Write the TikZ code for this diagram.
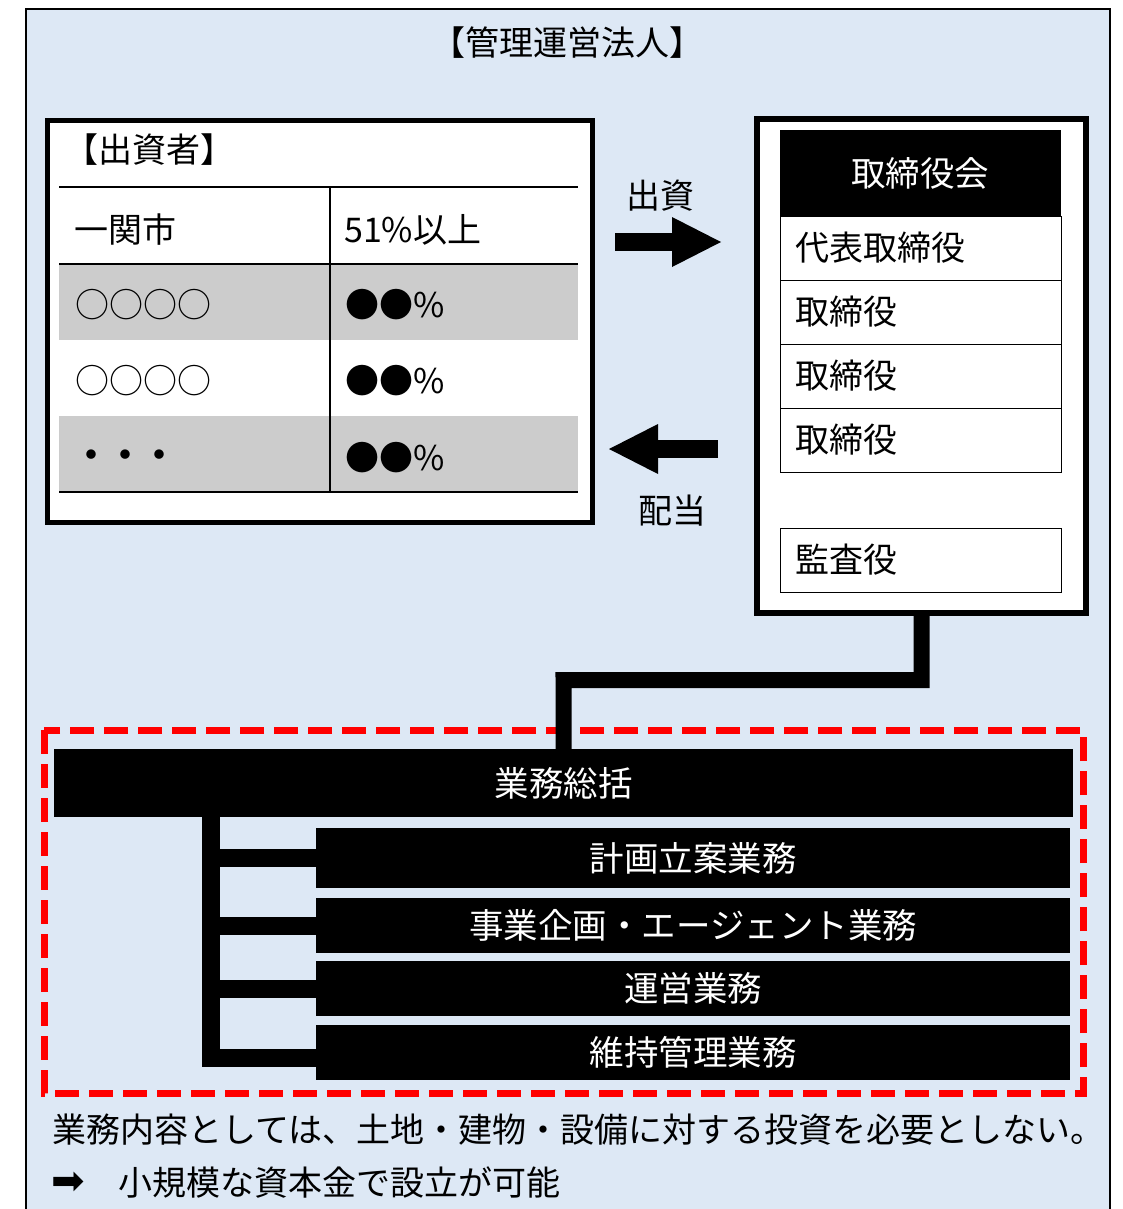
\documentclass[tikz,border=0pt]{standalone}
\usepackage{fontspec}
\setmainfont{Noto Sans CJK JP}
\newfontfamily\symfnt{DejaVu Sans}
\usetikzlibrary{arrows.meta}
\definecolor{bgblue}{RGB}{221,232,245}
\definecolor{rowgray}{RGB}{204,204,204}
\begin{document}
\begin{tikzpicture}[x=1pt,y=-1pt,
  lbl/.style={inner sep=0, font=\fontsize{34}{40}\selectfont},
  blackbar/.style={fill=black, inner sep=0, text=white, anchor=north west, font=\fontsize{34.5}{40}\selectfont},
  rowbox/.style={draw, line width=1.2, fill=white, minimum width=281, minimum height=64, anchor=north west, inner sep=0},
  conn/.style={line width=16},
  tree/.style={line width=18},
  blk/.style={line width=18, -{Triangle[length=49pt,width=50pt,line width=0pt]}},
]
\useasboundingbox (0,0) rectangle (1122,1209);
\path[fill=bgblue, draw=black, line width=2] (26,9) rectangle (1110,1240);

\node[lbl] (title) at (567,43) {【管理運営法人】};

% investors
\node[draw, line width=5, fill=white, minimum width=545, minimum height=401, anchor=north west, inner sep=0] (inv) at (44.5,118.5) {};
\fill[rowgray] (59,264) rectangle (578,340);
\fill[rowgray] (59,416) rectangle (578,492);
\draw[line width=2.5] (59,187) -- (578,187);
\draw[line width=2] (59,264) -- (578,264);
\draw[line width=2.5] (59,492) -- (578,492);
\draw[line width=2] (330,187) -- (330,492);
\node[lbl, anchor=west] (invt) at (64,150) {【出資者】};
\node[lbl, anchor=west] (n1) at (74,230) {一関市};
\node[lbl, anchor=west] (p1) at (344,230) {51\%以上};
\node[lbl, anchor=west] (n2) at (75,305) {○○○○};
\node[lbl, anchor=west] (p2) at (345,305) {●●\%};
\node[lbl, anchor=west] (n3) at (75,381) {○○○○};
\node[lbl, anchor=west] (p3) at (345,381) {●●\%};
\node[lbl, anchor=west, font=\bfseries\fontsize{34}{40}\selectfont] (n4) at (74,459) {・・・};
\node[lbl, anchor=west] (p4) at (345,458) {●●\%};

% arrows
\coordinate (ra1) at (615,242);
\coordinate (ra2) at (721,242);
\draw[blk] (ra1) -- (ra2);
\node[lbl] (lab1) at (660,196) {出資};
\coordinate (la1) at (718,449);
\coordinate (la2) at (609,449);
\draw[blk] (la1) -- (la2);
\node[lbl] (lab2) at (672,511) {配当};

% board
\node[draw, line width=6, fill=white, minimum width=329, minimum height=494, anchor=north west, inner sep=0] (rb) at (754,116) {};
\node[blackbar, minimum width=281, minimum height=86] (board) at (779.5,130) {取締役会};
\node[rowbox] (r1) at (780,216) {};
\node[rowbox] (r2) at (780,280) {};
\node[rowbox] (r3) at (780,344) {};
\node[rowbox] (r4) at (780,408) {};
\node[rowbox] (r5) at (780,528) {};
\node[lbl, anchor=west] (t1) at (795,248) {代表取締役};
\node[lbl, anchor=west] (t2) at (795,312) {取締役};
\node[lbl, anchor=west] (t3) at (795,376) {取締役};
\node[lbl, anchor=west] (t4) at (795,440) {取締役};
\node[lbl, anchor=west] (t5) at (795,560) {監査役};

% operations
\draw[red, line width=7, dash pattern=on 24pt off 10pt] (44,730) rectangle (1083,1093);
\node[blackbar, minimum width=1019, minimum height=68] (sok) at (54,749) {業務総括};
\node[blackbar, minimum width=754, minimum height=60] (b1) at (316,828) {計画立案業務};
\node[blackbar, minimum width=754, minimum height=55] (b2) at (316,898) {事業企画・エージェント業務};
\node[blackbar, minimum width=754, minimum height=55] (b3) at (316,961) {運営業務};
\node[blackbar, minimum width=754, minimum height=55] (b4) at (316,1025) {維持管理業務};

\coordinate (turn) at (563.5,680);
\draw[conn] (rb.south) |- (turn) -- (sok.north);

\coordinate (t0) at (211,817);
\draw[tree] (t0) |- ([yshift=-5.5pt]b4.west);
\draw[tree] (b1.west -| t0) -- (b1.west);
\draw[tree] (b2.west -| t0) -- (b2.west);
\draw[tree] (b3.west -| t0) -- (b3.west);

% notes
\node[lbl, anchor=west, font=\fontsize{34}{40}\selectfont] (note1) at (52,1130) {業務内容としては、土地・建物・設備に対する投資を必要としない。};
\node[lbl, anchor=west, font=\symfnt\fontsize{40}{44}\selectfont] (arr) at (51,1183) {➡};
\node[lbl, anchor=west, font=\fontsize{34}{40}\selectfont] (note2) at (118,1183) {小規模な資本金で設立が可能};
\end{tikzpicture}
\end{document}
